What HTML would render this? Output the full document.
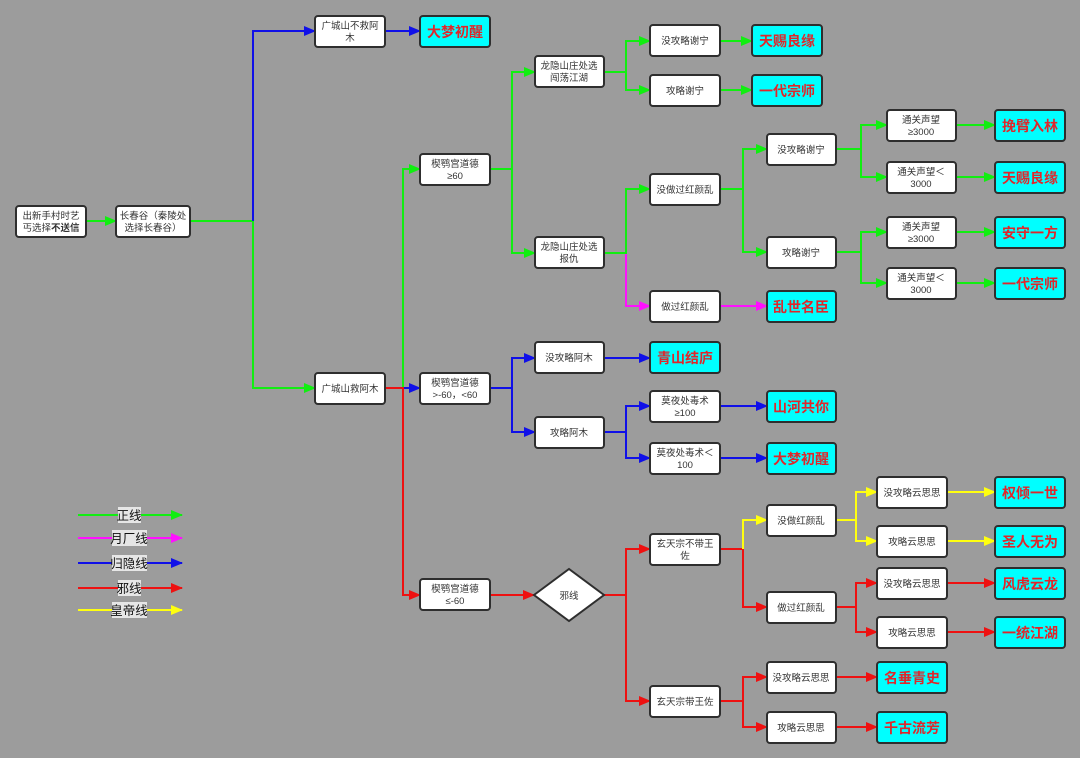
<!DOCTYPE html>
<html><head><meta charset="utf-8"><style>
html,body{margin:0;padding:0;background:#9c9c9c;}
svg{display:block;}
text{font-family:"Liberation Sans","Noto Sans CJK SC",sans-serif;}
.b{fill:#fff;stroke:#2e2e2e;stroke-width:2;}
.e{fill:#00ffff;stroke:#2e2e2e;stroke-width:2;}
.t{font-size:9.5px;fill:#333;text-anchor:middle;}
.r{font-size:14px;font-weight:bold;fill:#e0262a;text-anchor:middle;}
.g{stroke:#11ee11;}.bl{stroke:#1010e8;}.m{stroke:#ff10ff;}.rd{stroke:#ee1111;}.y{stroke:#ffff10;}
path{fill:none;stroke-width:2;}
.lg{font-size:12.5px;fill:#111;text-anchor:middle;}
</style></head><body>
<svg width="1080" height="758" viewBox="0 0 1080 758" xmlns="http://www.w3.org/2000/svg">
<defs>
<marker id="ag" markerUnits="userSpaceOnUse" markerWidth="12" markerHeight="10" refX="11" refY="5" orient="auto"><path d="M0,0 L12,5 L0,10z" style="fill:#11ee11;stroke:none"/></marker>
<marker id="ab" markerUnits="userSpaceOnUse" markerWidth="12" markerHeight="10" refX="11" refY="5" orient="auto"><path d="M0,0 L12,5 L0,10z" style="fill:#1010e8;stroke:none"/></marker>
<marker id="am" markerUnits="userSpaceOnUse" markerWidth="12" markerHeight="10" refX="11" refY="5" orient="auto"><path d="M0,0 L12,5 L0,10z" style="fill:#ff10ff;stroke:none"/></marker>
<marker id="ar" markerUnits="userSpaceOnUse" markerWidth="12" markerHeight="10" refX="11" refY="5" orient="auto"><path d="M0,0 L12,5 L0,10z" style="fill:#ee1111;stroke:none"/></marker>
<marker id="ay" markerUnits="userSpaceOnUse" markerWidth="12" markerHeight="10" refX="11" refY="5" orient="auto"><path d="M0,0 L12,5 L0,10z" style="fill:#ffff10;stroke:none"/></marker>
</defs>

<!-- green -->
<g class="g" marker-end="url(#ag)">
<path class="g" d="M86,221 H116" marker-end="url(#ag)"/>
<path class="g" d="M190,221 H253 V388 H315" marker-end="url(#ag)"/>
<path class="g" d="M403,388 V169 H420" marker-end="url(#ag)"/>
<path class="g" d="M490,169 H512 V72 H535" marker-end="url(#ag)"/>
<path class="g" d="M512,169 V253 H535" marker-end="url(#ag)"/>
<path class="g" d="M604,72 H626 V41 H650" marker-end="url(#ag)"/>
<path class="g" d="M626,72 V90 H650" marker-end="url(#ag)"/>
<path class="g" d="M720,41 H752" marker-end="url(#ag)"/>
<path class="g" d="M720,90 H752" marker-end="url(#ag)"/>
<path class="g" d="M604,253 H626 V189 H650" marker-end="url(#ag)"/>
<path class="g" d="M720,189 H743 V149 H767" marker-end="url(#ag)"/>
<path class="g" d="M743,189 V252 H767" marker-end="url(#ag)"/>
<path class="g" d="M836,149 H861 V125 H887" marker-end="url(#ag)"/>
<path class="g" d="M861,149 V177 H887" marker-end="url(#ag)"/>
<path class="g" d="M836,252 H861 V232 H887" marker-end="url(#ag)"/>
<path class="g" d="M861,252 V283 H887" marker-end="url(#ag)"/>
<path class="g" d="M956,125 H995" marker-end="url(#ag)"/>
<path class="g" d="M956,177 H995" marker-end="url(#ag)"/>
<path class="g" d="M956,232 H995" marker-end="url(#ag)"/>
<path class="g" d="M956,283 H995" marker-end="url(#ag)"/>
</g>
<!-- blue -->
<path class="bl" d="M253,221 V31 H315" marker-end="url(#ab)"/>
<path class="bl" d="M385,31 H420" marker-end="url(#ab)"/>
<path class="bl" d="M403,388 H420" marker-end="url(#ab)"/>
<path class="bl" d="M490,388 H512 V358 H535" marker-end="url(#ab)"/>
<path class="bl" d="M512,388 V432 H535" marker-end="url(#ab)"/>
<path class="bl" d="M604,358 H650" marker-end="url(#ab)"/>
<path class="bl" d="M604,432 H626 V406 H650" marker-end="url(#ab)"/>
<path class="bl" d="M626,432 V458 H650" marker-end="url(#ab)"/>
<path class="bl" d="M720,406 H767" marker-end="url(#ab)"/>
<path class="bl" d="M720,458 H767" marker-end="url(#ab)"/>
<!-- magenta -->
<path class="m" d="M626,254 V306 H650" marker-end="url(#am)"/>
<path class="m" d="M720,306 H767" marker-end="url(#am)"/>
<!-- red -->
<path class="rd" d="M385,388 H403 V595 H420" marker-end="url(#ar)"/>
<path class="rd" d="M490,595 H534" marker-end="url(#ar)"/>
<path class="rd" d="M604,595 H626 V549 H650" marker-end="url(#ar)"/>
<path class="rd" d="M626,595 V701 H650" marker-end="url(#ar)"/>
<path class="rd" d="M720,549 H743 V607 H767" marker-end="url(#ar)"/>
<path class="rd" d="M836,607 H856 V583 H877" marker-end="url(#ar)"/>
<path class="rd" d="M856,607 V632 H877" marker-end="url(#ar)"/>
<path class="rd" d="M947,583 H995" marker-end="url(#ar)"/>
<path class="rd" d="M947,632 H995" marker-end="url(#ar)"/>
<path class="rd" d="M720,701 H743 V677 H767" marker-end="url(#ar)"/>
<path class="rd" d="M743,701 V727 H767" marker-end="url(#ar)"/>
<path class="rd" d="M836,677 H877" marker-end="url(#ar)"/>
<path class="rd" d="M836,727 H877" marker-end="url(#ar)"/>
<!-- yellow -->
<path class="y" d="M743,549 V520 H767" marker-end="url(#ay)"/>
<path class="y" d="M836,520 H856 V492 H877" marker-end="url(#ay)"/>
<path class="y" d="M856,520 V541 H877" marker-end="url(#ay)"/>
<path class="y" d="M947,492 H995" marker-end="url(#ay)"/>
<path class="y" d="M947,541 H995" marker-end="url(#ay)"/>

<!-- boxes -->
<rect class="b" x="16" y="206" width="70" height="31" rx="3"/>
<text class="t" x="51" y="219">出新手村时艺</text><text class="t" x="51" y="231">丐选择<tspan font-weight="bold">不送信</tspan></text>
<rect class="b" x="116" y="206" width="74" height="31" rx="3"/>
<text class="t" x="153" y="219">长春谷（秦陵处</text><text class="t" x="153" y="231">选择长春谷）</text>

<rect class="b" x="315" y="16" width="70" height="31" rx="3"/>
<text class="t" x="350" y="29">广城山不救阿</text><text class="t" x="350" y="41">木</text>
<rect class="e" x="420" y="16" width="70" height="31" rx="3"/><text class="r" x="455" y="37">大梦初醒</text>

<rect class="b" x="315" y="373" width="70" height="31" rx="3"/><text class="t" x="350" y="392">广城山救阿木</text>

<rect class="b" x="420" y="154" width="70" height="31" rx="3"/>
<text class="t" x="455" y="167">楔鹗宫道德</text><text class="t" x="455" y="179">≥60</text>
<rect class="b" x="420" y="373" width="70" height="31" rx="3"/>
<text class="t" x="455" y="386">楔鹗宫道德</text><text class="t" x="455" y="398">&gt;-60，&lt;60</text>
<rect class="b" x="420" y="579" width="70" height="31" rx="3"/>
<text class="t" x="455" y="592">楔鹗宫道德</text><text class="t" x="455" y="604">≤-60</text>

<rect class="b" x="535" y="56" width="69" height="31" rx="3"/>
<text class="t" x="569" y="69">龙隐山庄处选</text><text class="t" x="569" y="81">闯荡江湖</text>
<rect class="b" x="535" y="237" width="69" height="31" rx="3"/>
<text class="t" x="569" y="250">龙隐山庄处选</text><text class="t" x="569" y="262">报仇</text>

<rect class="b" x="650" y="25" width="70" height="31" rx="3"/><text class="t" x="685" y="44">没攻略谢宁</text>
<rect class="b" x="650" y="75" width="70" height="31" rx="3"/><text class="t" x="685" y="94">攻略谢宁</text>
<rect class="e" x="752" y="25" width="70" height="31" rx="3"/><text class="r" x="787" y="46">天赐良缘</text>
<rect class="e" x="752" y="75" width="70" height="31" rx="3"/><text class="r" x="787" y="96">一代宗师</text>

<rect class="b" x="650" y="174" width="70" height="31" rx="3"/><text class="t" x="685" y="193">没做过红颜乱</text>
<rect class="b" x="650" y="291" width="70" height="31" rx="3"/><text class="t" x="685" y="310">做过红颜乱</text>
<rect class="e" x="767" y="291" width="69" height="31" rx="3"/><text class="r" x="801" y="312">乱世名臣</text>

<rect class="b" x="767" y="134" width="69" height="31" rx="3"/><text class="t" x="801" y="153">没攻略谢宁</text>
<rect class="b" x="767" y="237" width="69" height="31" rx="3"/><text class="t" x="801" y="256">攻略谢宁</text>

<rect class="b" x="887" y="110" width="69" height="31" rx="3"/><text class="t" x="921" y="123">通关声望</text><text class="t" x="921" y="135">≥3000</text>
<rect class="b" x="887" y="162" width="69" height="31" rx="3"/><text class="t" x="921" y="175">通关声望＜</text><text class="t" x="921" y="187">3000</text>
<rect class="b" x="887" y="217" width="69" height="31" rx="3"/><text class="t" x="921" y="230">通关声望</text><text class="t" x="921" y="242">≥3000</text>
<rect class="b" x="887" y="268" width="69" height="31" rx="3"/><text class="t" x="921" y="281">通关声望＜</text><text class="t" x="921" y="293">3000</text>
<rect class="e" x="995" y="110" width="70" height="31" rx="3"/><text class="r" x="1030" y="131">挽臂入林</text>
<rect class="e" x="995" y="162" width="70" height="31" rx="3"/><text class="r" x="1030" y="183">天赐良缘</text>
<rect class="e" x="995" y="217" width="70" height="31" rx="3"/><text class="r" x="1030" y="238">安守一方</text>
<rect class="e" x="995" y="268" width="70" height="31" rx="3"/><text class="r" x="1030" y="289">一代宗师</text>

<rect class="b" x="535" y="342" width="69" height="31" rx="3"/><text class="t" x="569" y="361">没攻略阿木</text>
<rect class="b" x="535" y="417" width="69" height="31" rx="3"/><text class="t" x="569" y="436">攻略阿木</text>
<rect class="e" x="650" y="342" width="70" height="31" rx="3"/><text class="r" x="685" y="363">青山结庐</text>
<rect class="b" x="650" y="391" width="70" height="31" rx="3"/><text class="t" x="685" y="404">莫夜处毒术</text><text class="t" x="685" y="416">≥100</text>
<rect class="b" x="650" y="443" width="70" height="31" rx="3"/><text class="t" x="685" y="456">莫夜处毒术＜</text><text class="t" x="685" y="468">100</text>
<rect class="e" x="767" y="391" width="69" height="31" rx="3"/><text class="r" x="801" y="412">山河共你</text>
<rect class="e" x="767" y="443" width="69" height="31" rx="3"/><text class="r" x="801" y="464">大梦初醒</text>

<polygon points="534,595 569,569 604,595 569,621" style="fill:#fff;stroke:#2e2e2e;stroke-width:2"/>
<text class="t" x="569" y="599">邪线</text>

<rect class="b" x="650" y="534" width="70" height="31" rx="3"/><text class="t" x="685" y="547">玄天宗不带王</text><text class="t" x="685" y="559">佐</text>
<rect class="b" x="650" y="686" width="70" height="31" rx="3"/><text class="t" x="685" y="705">玄天宗带王佐</text>
<rect class="b" x="767" y="505" width="69" height="31" rx="3"/><text class="t" x="801" y="524">没做红颜乱</text>
<rect class="b" x="767" y="592" width="69" height="31" rx="3"/><text class="t" x="801" y="611">做过红颜乱</text>
<rect class="b" x="767" y="662" width="69" height="31" rx="3"/><text class="t" x="801" y="681">没攻略云思思</text>
<rect class="b" x="767" y="712" width="69" height="31" rx="3"/><text class="t" x="801" y="731">攻略云思思</text>
<rect class="e" x="877" y="662" width="70" height="31" rx="3"/><text class="r" x="912" y="683">名垂青史</text>
<rect class="e" x="877" y="712" width="70" height="31" rx="3"/><text class="r" x="912" y="733">千古流芳</text>

<rect class="b" x="877" y="477" width="70" height="31" rx="3"/><text class="t" x="912" y="496">没攻略云思思</text>
<rect class="b" x="877" y="526" width="70" height="31" rx="3"/><text class="t" x="912" y="545">攻略云思思</text>
<rect class="b" x="877" y="568" width="70" height="31" rx="3"/><text class="t" x="912" y="587">没攻略云思思</text>
<rect class="b" x="877" y="617" width="70" height="31" rx="3"/><text class="t" x="912" y="636">攻略云思思</text>
<rect class="e" x="995" y="477" width="70" height="31" rx="3"/><text class="r" x="1030" y="498">权倾一世</text>
<rect class="e" x="995" y="526" width="70" height="31" rx="3"/><text class="r" x="1030" y="547">圣人无为</text>
<rect class="e" x="995" y="568" width="70" height="31" rx="3"/><text class="r" x="1030" y="589">风虎云龙</text>
<rect class="e" x="995" y="617" width="70" height="31" rx="3"/><text class="r" x="1030" y="638">一统江湖</text>

<!-- legend -->
<path class="g" d="M78,515 H182" marker-end="url(#ag)"/>
<path class="m" d="M78,538 H182" marker-end="url(#am)"/>
<path class="bl" d="M78,563 H182" marker-end="url(#ab)"/>
<path class="rd" d="M78,588 H182" marker-end="url(#ar)"/>
<path class="y" d="M78,610 H182" marker-end="url(#ay)"/>
<rect x="118" y="507" width="23" height="16" fill="#e6e6e6"/><text class="lg" x="129" y="520">正线</text>
<rect x="112" y="530" width="35" height="16" fill="#e6e6e6"/><text class="lg" x="129" y="543">月厂线</text>
<rect x="112" y="555" width="35" height="16" fill="#e6e6e6"/><text class="lg" x="129" y="568">归隐线</text>
<rect x="118" y="580" width="23" height="16" fill="#e6e6e6"/><text class="lg" x="129" y="593">邪线</text>
<rect x="112" y="602" width="35" height="16" fill="#e6e6e6"/><text class="lg" x="129" y="615">皇帝线</text>
</svg>
</body></html>
